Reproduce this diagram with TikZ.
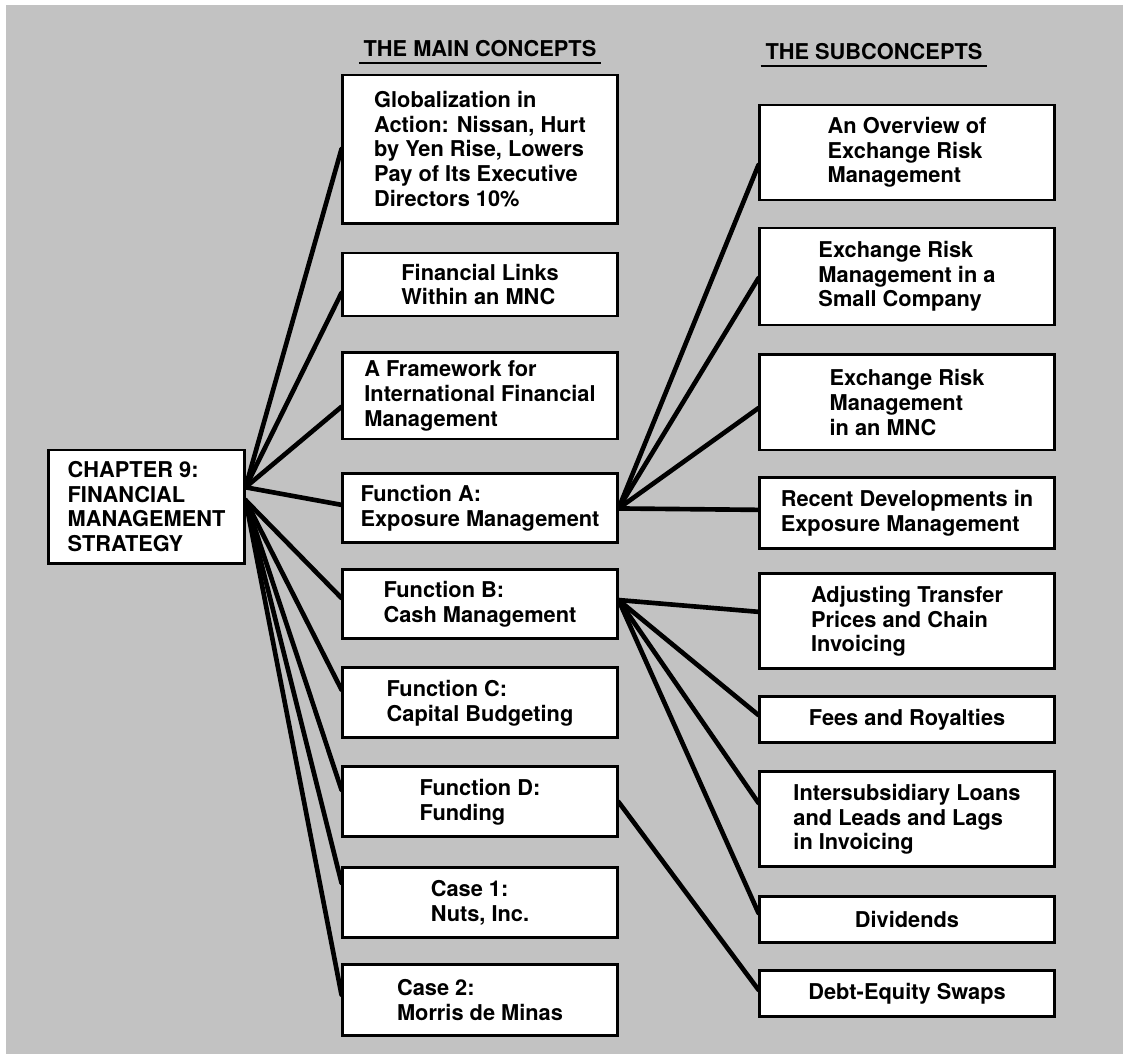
\documentclass[tikz,border=0pt]{standalone}
\usepackage{fontspec}
\setmainfont{TeX Gyre Heros}
\usetikzlibrary{positioning}

\definecolor{paper}{gray}{0.76}

\begin{document}
\begin{tikzpicture}[
    x=0.025cm, y=-0.025cm,
    node distance=0.65cm,
    box/.style={draw, fill=white, line width=2.1pt, align=left, inner sep=0pt,
                font=\fontsize{15.5}{17.6}\selectfont\bfseries},
    mbox/.style={box, minimum width=6.85cm},
    sbox/.style={box, minimum width=7.35cm},
    head/.style={inner xsep=3.2pt, inner ysep=4pt, font=\fontsize{15.5}{17.6}\selectfont\bfseries},
    rule/.style={line width=1.4pt},
    link/.style={line width=3.3pt, line cap=round}
]
\useasboundingbox (0,0) rectangle (1128,1059);
\fill[white] (0,0) rectangle (1128,1059);
\fill[paper] (6,5) rectangle (1123,1054);

% chapter
\node[box, minimum width=4.875cm, minimum height=2.825cm] (chapter) at (146.5,506.5)
    {CHAPTER 9:\\FINANCIAL\\MANAGEMENT\\STRATEGY};

% main concepts
\node[mbox, minimum height=3.7cm] (glob) at (480,149)
    {Globalization in\\Action: Nissan, Hurt\\by Yen Rise, Lowers\\Pay of Its Executive\\Directors 10\%};
\node[mbox, minimum height=1.575cm, below=0.675cm of glob] (links) {Financial Links\\Within an MNC};
\node[mbox, minimum height=2.15cm, below=0.85cm of links] (frame) {A Framework for\\International Financial\\Management};
\node[mbox, minimum height=1.725cm, below=0.8cm of frame] (funa) {Function A:\\Exposure Management};
\node[mbox, minimum height=1.725cm, below=0.6cm of funa] (funb) {Function B:\\Cash Management};
\node[mbox, minimum height=1.75cm, below=0.65cm of funb] (func) {Function C:\\Capital Budgeting};
\node[mbox, minimum height=1.75cm, below=0.65cm of func] (fund) {Function D:\\Funding};
\node[mbox, minimum height=1.75cm, below=0.7cm of fund] (case1) {Case 1:\\Nuts, Inc.};
\node[mbox, minimum height=1.775cm, below=0.6cm of case1] (case2) {Case 2:\\Morris de Minas};

% subconcepts
\node[sbox, minimum height=2.375cm] (overview) at (907,152.5) {An Overview of\\Exchange Risk\\Management};
\node[sbox, minimum height=2.425cm, below=0.625cm of overview] (small) {Exchange Risk\\Management in a\\Small Company};
\node[sbox, minimum height=2.375cm, below=0.675cm of small] (mnc) {Exchange Risk\\Management\\in an MNC};
\node[sbox, minimum height=1.775cm, below=0.625cm of mnc] (recent) {Recent Developments in\\Exposure Management};
\node[sbox, minimum height=2.375cm, below=0.55cm of recent] (transfer) {Adjusting Transfer\\Prices and Chain\\Invoicing};
\node[sbox, minimum height=1.15cm, below=0.625cm of transfer] (fees) {Fees and Royalties};
\node[sbox, minimum height=2.375cm, below=0.65cm of fees] (loans) {Intersubsidiary Loans\\and Leads and Lags\\in Invoicing};
\node[sbox, minimum height=1.15cm, below=0.675cm of loans] (divs) {Dividends};
\node[sbox, minimum height=1.15cm, below=0.625cm of divs] (swaps) {Debt-Equity Swaps};

% headings
\node[head, above=0.26cm of glob] (mainhd) {THE MAIN CONCEPTS};
\node[head, anchor=south] (subhd) at (874,66) {THE SUBCONCEPTS};
\draw[rule] (mainhd.south west) -- (mainhd.south east);
\draw[rule] (subhd.south west) -- (subhd.south east);

% links
\coordinate (hub) at ([yshift=0.48cm]chapter.east);
\coordinate (hublow) at ([yshift=0.16cm]chapter.east);
\foreach \n/\s in {glob/0, links/-0.21, frame/-0.27, funa/0.09}
    \draw[link] (hub) -- ([yshift=\s cm]\n.west);
\foreach \n/\s in {funb/0.16, func/0.33, fund/0.3, case1/0.5, case2/0.14}
    \draw[link] (hublow) -- ([yshift=\s cm]\n.west);
\foreach \n/\s in {overview/-0.31, small/-0.04, mnc/-0.14, recent/0.09}
    \draw[link] (funa.east) -- ([yshift=\s cm]\n.west);
\foreach \n/\s in {transfer/0.24, fees/0.12, loans/0.41, divs/0.17}
    \draw[link] ([yshift=0.11cm]funb.east) -- ([yshift=\s cm]\n.west);
\draw[link] (fund.east) -- ([yshift=0.1cm]swaps.west);
\end{tikzpicture}
\end{document}
